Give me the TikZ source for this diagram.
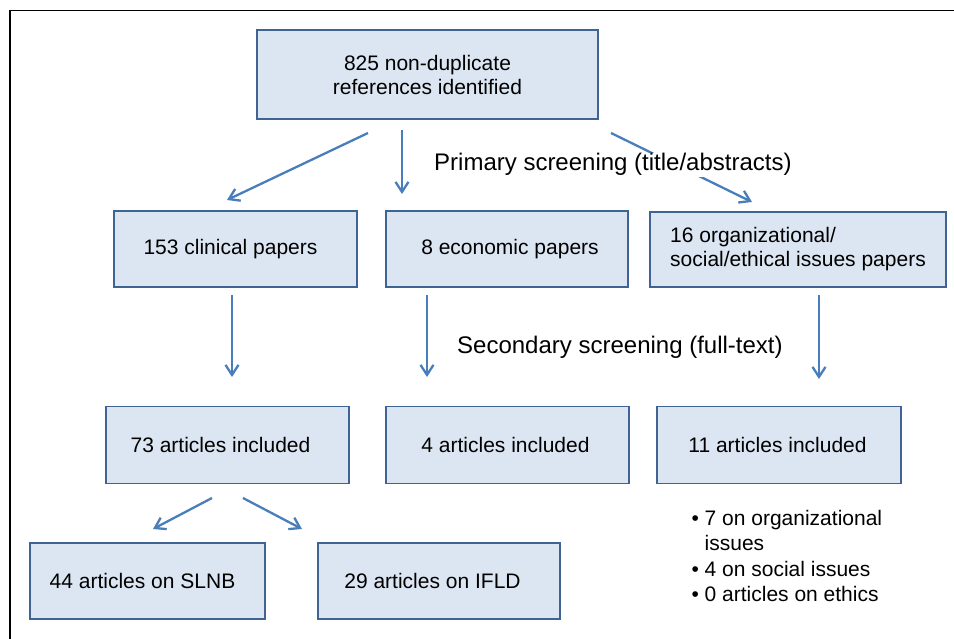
\documentclass[tikz,border=0pt]{standalone}
\usepackage{fontspec}
\setmainfont{Liberation Sans}
\usetikzlibrary{arrows.meta}
\definecolor{boxfill}{HTML}{DCE6F2}
\definecolor{boxdraw}{HTML}{3F6393}
\definecolor{arrowcol}{HTML}{4A7EBB}
\tikzset{
  flowbox/.style={draw=boxdraw, fill=boxfill, line width=1.8pt, rectangle, inner sep=0pt,
    font=\fontsize{21}{24}\selectfont, align=center},
  flowarrow/.style={draw=arrowcol, line width=2.3pt, -{Straight Barb[length=10pt,width=13pt]}},
  plainlabel/.style={font=\fontsize{21}{24}\selectfont, inner sep=1pt},
  steplabel/.style={font=\fontsize{24}{28}\selectfont, inner sep=1pt},
}
\begin{document}
\begin{tikzpicture}[x=1pt,y=-1pt]
\useasboundingbox (0,0) rectangle (954,639);
\draw[line width=1.4pt] (10,639) -- (10,10.5) -- (954,10.5);

% boxes
\node[flowbox, minimum width=341pt, minimum height=89pt] (top) at (427.5,74.5) {825 non-duplicate\\references identified};
\node[flowbox, minimum width=243pt, minimum height=76pt] (clin) at (235.5,249) {\hspace*{-10pt}153 clinical papers};
\node[flowbox, minimum width=242pt, minimum height=76pt] (econ) at (507,249) {\hspace*{6pt}8 economic papers};
\node[flowbox, minimum width=296pt, minimum height=75pt, align=left] (org) at (798,249.5) {16 organizational/\\social/ethical issues papers};
\node[flowbox, minimum width=243pt, minimum height=77pt] (inca) at (227.5,445) {\hspace*{-14pt}73 articles included};
\node[flowbox, minimum width=243pt, minimum height=77pt] (incb) at (507.5,445) {\hspace*{-4pt}4 articles included};
\node[flowbox, minimum width=244pt, minimum height=77pt] (incc) at (779,445) {\hspace*{-3pt}11 articles included};
\node[flowbox, minimum width=235pt, minimum height=76pt] (slnb) at (147.5,581) {\hspace*{-10pt}44 articles on SLNB};
\node[flowbox, minimum width=242pt, minimum height=76pt] (ifld) at (439,581) {\hspace*{-13pt}29 articles on IFLD};

% arrow end coordinates
\coordinate (a1s) at (368,133); \coordinate (a1e) at (227,200);
\coordinate (a2s) at (402,130); \coordinate (a2e) at (402,194);
\coordinate (a3s) at (611,133); \coordinate (a3e) at (752,202);
\coordinate (b1s) at (232,295); \coordinate (b1e) at (232,377);
\coordinate (b2s) at (427,295); \coordinate (b2e) at (427,377);
\coordinate (b3s) at (819,295); \coordinate (b3e) at (819,379);
\coordinate (c1s) at (212,498); \coordinate (c1e) at (153,529);
\coordinate (c2s) at (243,498); \coordinate (c2e) at (302,529);

\draw[flowarrow] (a1s) -- (a1e);
\draw[flowarrow] (a2s) -- (a2e);
\draw[flowarrow] (a3s) -- (a3e);
\draw[flowarrow] (b1s) -- (b1e);
\draw[flowarrow] (b2s) -- (b2e);
\draw[flowarrow] (b3s) -- (b3e);
\draw[flowarrow] (c1s) -- (c1e);
\draw[flowarrow] (c2s) -- (c2e);

% labels
\node[steplabel, fill=white, anchor=base west] (prim) at (433,171) {Primary screening (title/abstracts)};
\node[steplabel, anchor=base west] (sec) at (456,353) {Secondary screening (full-text)};

% bullet list
\node[plainlabel, anchor=north west, align=left, font=\fontsize{21}{25.5}\selectfont] (bul) at (690.5,509)
  {\makebox[13pt][l]{•}7 on organizational\\\hspace*{13pt}issues\\\makebox[13pt][l]{•}4 on social issues\\\makebox[13pt][l]{•}0 articles on ethics};
\end{tikzpicture}
\end{document}
